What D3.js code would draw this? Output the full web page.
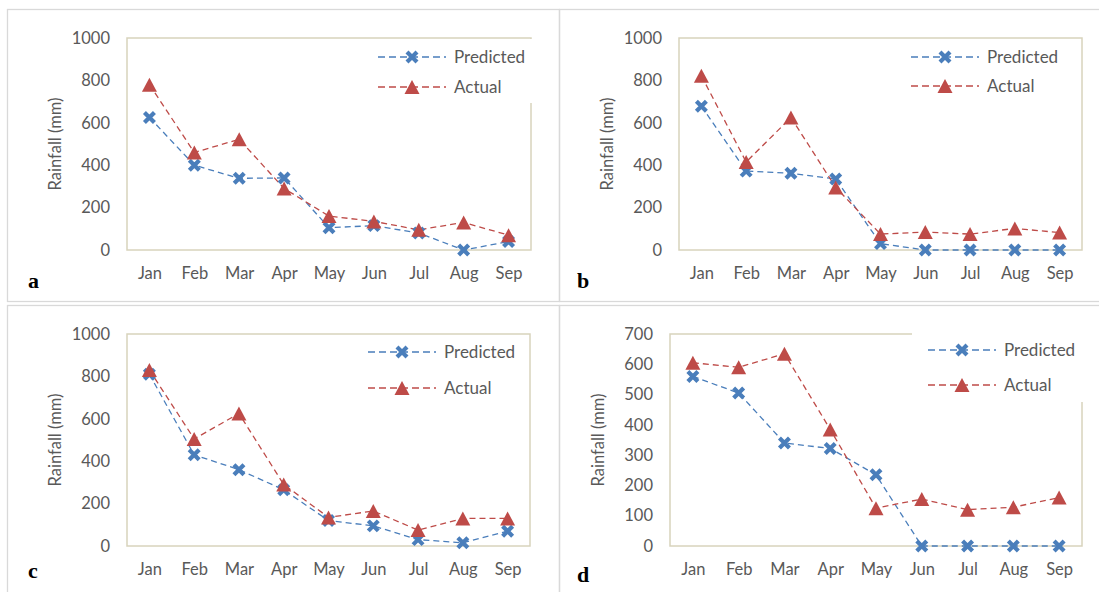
<!DOCTYPE html>
<html>
<head>
<meta charset="utf-8">
<script src="https://cdn.jsdelivr.net/npm/d3@7"></script>
<style>
  body { margin: 0; background: #fff; }
  svg { display: block; }
  .tick text { fill: #595959; }
</style>
</head>
<body>
<div id="chart"></div>
<script>
// --- DATA ---
const months = ["Jan", "Feb", "Mar", "Apr", "May", "Jun", "Jul", "Aug", "Sep"];

const predictedA = [625, 400, 338, 340, 105, 115, 80, 0, 40];
const actualA    = [780, 460, 522, 290, 160, 135, 95, 130, 70];

const predictedB = [678, 372, 362, 335, 30, 0, 0, 0, 0];
const actualB    = [822, 415, 625, 295, 75, 85, 75, 102, 82];

const predictedC = [810, 430, 360, 265, 120, 95, 30, 15, 70];
const actualC    = [830, 505, 625, 290, 135, 165, 75, 130, 130];

const predictedD = [560, 505, 340, 322, 235, 0, 0, 0, 0];
const actualD    = [605, 590, 635, 385, 125, 155, 120, 128, 160];

const yTicks1000 = [0, 200, 400, 600, 800, 1000];
const yTicks700  = [0, 100, 200, 300, 400, 500, 600, 700];

const seriesNames = ["Predicted", "Actual"];
const blue = "#4a7ebb";
const red = "#be4b48";
const font = "Lato, 'Open Sans', sans-serif";

const W = 1099, H = 592;
const svg = d3.select("#chart").append("svg").attr("width", W).attr("height", H);

// outer panel frames
const frame = svg.append("g").attr("fill", "none").attr("stroke", "#d9d9d9").attr("stroke-width", 1.3);
frame.append("rect").attr("x", 7.5).attr("y", 9.5).attr("width", 552).attr("height", 292);
frame.append("rect").attr("x", 559.5).attr("y", 9.5).attr("width", 560).attr("height", 292);
frame.append("rect").attr("x", 7.5).attr("y", 305.5).attr("width", 552).attr("height", 300);
frame.append("rect").attr("x", 559.5).attr("y", 305.5).attr("width", 560).attr("height", 300);

const panels = [
  { letter: "a", pred: predictedA, act: actualA, ticks: yTicks1000, max: 1000,
    plot: { l: 127, t: 38, r: 531, b: 250 }, letterPos: [28, 288],
    legend: { x: 378, y1: 57, y2: 87, box: [376, 39, 157, 64] } },
  { letter: "b", pred: predictedB, act: actualB, ticks: yTicks1000, max: 1000,
    plot: { l: 679, t: 38, r: 1082, b: 250 }, letterPos: [577, 288],
    legend: { x: 911, y1: 57, y2: 86, box: null } },
  { letter: "c", pred: predictedC, act: actualC, ticks: yTicks1000, max: 1000,
    plot: { l: 127, t: 334, r: 530, b: 546 }, letterPos: [28, 578],
    legend: { x: 368, y1: 352, y2: 388, box: null } },
  { letter: "d", pred: predictedD, act: actualD, ticks: yTicks700, max: 700,
    plot: { l: 670, t: 334, r: 1082, b: 546 }, letterPos: [577, 582],
    legend: { x: 928, y1: 350, y2: 385, box: [912, 333, 171, 69] } }
];

// Excel-ish markers, centred on their bounding box
const xMarker = "M-5,-5L5,5M-5,5L5,-5";
const triMarker = "M0,-7L7.5,7L-7.5,7Z";

function drawMarker(g, type, color) {
  if (type === "x") {
    g.append("path").attr("d", xMarker).attr("stroke", color)
      .attr("stroke-width", 4.2).attr("fill", "none");
  } else {
    g.append("path").attr("d", triMarker).attr("fill", color);
  }
}

function drawPanel(p) {
  const g = svg.append("g");
  const { l, t, r, b } = p.plot;

  const x = d3.scalePoint().domain(months).range([l, r]).padding(0.5);
  const y = d3.scaleLinear().domain([0, p.max]).range([b, t]);

  // plot area border
  g.append("rect").attr("x", l).attr("y", t).attr("width", r - l).attr("height", b - t)
    .attr("fill", "none").attr("stroke", "#d8d3bc").attr("stroke-width", 1.5);

  // y axis labels
  const yAxis = g.append("g").attr("transform", `translate(${l},0)`)
    .call(d3.axisLeft(y).tickValues(p.ticks).tickFormat(d3.format("d")).tickSize(0).tickPadding(17));
  yAxis.select(".domain").remove();
  yAxis.selectAll("text").style("font-family", font).style("font-size", "16.5px");

  // x axis labels
  const xAxis = g.append("g").attr("transform", `translate(0,${b})`)
    .call(d3.axisBottom(x).tickSize(0).tickPadding(17));
  xAxis.select(".domain").remove();
  xAxis.selectAll("text").style("font-family", font).style("font-size", "16.5px");

  // y title
  g.append("text")
    .attr("transform", `translate(${l - 72},${(t + b) / 2}) rotate(-90)`)
    .attr("text-anchor", "middle")
    .attr("dy", "0.35em")
    .style("font-family", font).style("font-size", "16.5px")
    .attr("fill", "#595959")
    .text("Rainfall (mm)");

  const line = d3.line().x((d, i) => x(months[i])).y(d => y(d));

  const series = [
    { name: seriesNames[0], values: p.pred, color: blue, marker: "x" },
    { name: seriesNames[1], values: p.act, color: red, marker: "tri" }
  ];

  series.forEach(s => {
    g.append("path").datum(s.values)
      .attr("d", line).attr("fill", "none")
      .attr("stroke", s.color).attr("stroke-width", 1.3)
      .attr("stroke-dasharray", "6,4");
  });
  series.forEach(s => {
    s.values.forEach((v, i) => {
      const m = g.append("g").attr("transform", `translate(${x(months[i])},${y(v)})`);
      drawMarker(m, s.marker, s.color);
    });
  });

  // legend
  const lg = p.legend;
  if (lg.box) {
    g.append("rect").attr("x", lg.box[0]).attr("y", lg.box[1])
      .attr("width", lg.box[2]).attr("height", lg.box[3]).attr("fill", "#fff");
  }
  [lg.y1, lg.y2].forEach((ly, k) => {
    const s = series[k];
    g.append("line").attr("x1", lg.x).attr("x2", lg.x + 68).attr("y1", ly).attr("y2", ly)
      .attr("stroke", s.color).attr("stroke-width", 1.3).attr("stroke-dasharray", "7,4");
    const m = g.append("g").attr("transform", `translate(${lg.x + 34},${ly})`);
    drawMarker(m, s.marker, s.color);
    g.append("text").attr("x", lg.x + 76).attr("y", ly).attr("dy", "0.35em")
      .style("font-family", font).style("font-size", "17px")
      .attr("fill", "#595959").text(s.name);
  });

  // panel letter
  g.append("text").attr("x", p.letterPos[0]).attr("y", p.letterPos[1])
    .style("font-family", "'Liberation Serif', 'DejaVu Serif', serif")
    .style("font-size", "22px").style("font-weight", "bold")
    .attr("fill", "#000").text(p.letter);
}

panels.forEach(drawPanel);
</script>
</body>
</html>
